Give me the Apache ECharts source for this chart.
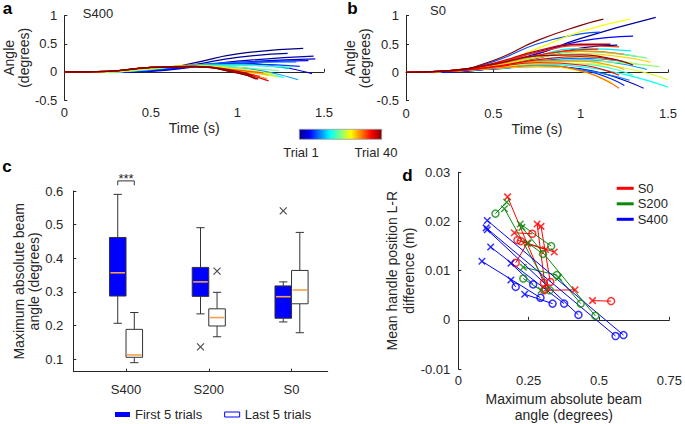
<!DOCTYPE html>
<html><head><meta charset="utf-8">
<script src="https://cdn.jsdelivr.net/npm/echarts@6/dist/echarts.min.js"></script>
<style>html,body{margin:0;padding:0;background:#fff}#c{width:685px;height:424px}</style>
</head><body><div id="c"></div><script>
// ---------- DATA ----------
// Panels a & b: beam angle traces. Row: [trial, endTime, v(0), v(0.25), v(0.5), v(0.75), v(1.0), v(end)]
const sampleTimes = [0, 0.25, 0.5, 0.75, 1.0];
const curvesS400 = [
  [1, 1.38, 0, -0.01, 0.02, 0.16, 0.32, 0.42],
  [2, 1.29, 0, -0.01, 0.02, 0.13, 0.26, 0.33],
  [3, 1.44, 0, -0.01, 0.01, 0.09, 0.19, 0.28],
  [4, 1.45, 0, 0.00, 0.02, 0.10, 0.17, 0.23],
  [5, 1.43, 0, 0.00, 0.03, 0.11, 0.16, -0.03],
  [6, 1.41, 0, -0.01, 0.02, 0.10, 0.16, 0.20],
  [8, 1.36, 0, 0.00, 0.03, 0.11, 0.14, 0.10],
  [10, 1.34, 0, 0.00, 0.04, 0.12, 0.17, 0.18],
  [12, 1.35, 0, 0.00, 0.04, 0.11, 0.08, -0.14],
  [14, 1.30, 0, 0.00, 0.05, 0.12, 0.12, 0.06],
  [16, 1.27, 0, 0.00, 0.05, 0.11, 0.05, -0.10],
  [18, 1.31, 0, 0.00, 0.05, 0.12, 0.12, 0.08],
  [20, 1.24, 0, 0.00, 0.06, 0.11, 0.08, 0.02],
  [22, 1.22, 0, 0.00, 0.06, 0.11, 0.04, -0.07],
  [24, 1.23, 0, 0.00, 0.06, 0.10, 0.03, -0.09],
  [26, 1.20, 0, 0.01, 0.07, 0.11, 0.05, -0.03],
  [28, 1.18, 0, 0.01, 0.07, 0.10, 0.02, -0.06],
  [30, 1.17, 0, 0.01, 0.07, 0.10, 0.00, -0.12],
  [32, 1.15, 0, 0.01, 0.08, 0.10, 0.03, -0.02],
  [34, 1.13, 0, 0.01, 0.08, 0.10, 0.00, -0.08],
  [36, 1.18, 0, 0.01, 0.08, 0.10, -0.01, -0.16],
  [38, 1.11, 0, 0.01, 0.08, 0.09, -0.02, -0.13],
  [39, 1.09, 0, 0.01, 0.08, 0.10, 0.01, -0.07],
  [40, 1.12, 0, 0.01, 0.08, 0.09, -0.02, -0.13]
];
const curvesS0 = [
  [1, 1.21, 0, 0.02, 0.10, 0.25, 0.43, 0.48],
  [2, 1.43, 0, 0.02, 0.11, 0.32, 0.60, 0.97],
  [3, 1.36, 0, 0.01, 0.06, 0.11, 0.06, -0.28],
  [4, 1.17, 0, 0.02, 0.14, 0.36, 0.49, 0.49],
  [6, 1.30, 0, 0.02, 0.12, 0.33, 0.55, 0.64],
  [7, 1.25, 0, 0.01, 0.06, 0.11, 0.05, -0.23],
  [9, 1.11, 0, 0.03, 0.19, 0.50, 0.68, 0.71],
  [10, 1.24, 0, 0.02, 0.09, 0.20, 0.25, 0.20],
  [11, 1.28, 0, 0.02, 0.06, 0.10, 0.05, -0.14],
  [12, 1.38, 0, 0.02, 0.08, 0.19, 0.22, 0.05],
  [13, 1.32, 0, 0.02, 0.10, 0.26, 0.37, 0.28],
  [15, 1.29, 0, 0.02, 0.12, 0.30, 0.42, 0.38],
  [16, 1.50, 0, 0.02, 0.07, 0.14, 0.10, -0.26],
  [18, 1.30, 0, 0.02, 0.08, 0.16, 0.15, -0.05],
  [20, 1.38, 0, 0.02, 0.11, 0.28, 0.37, 0.25],
  [21, 1.45, 0, 0.02, 0.09, 0.18, 0.20, 0.10],
  [22, 1.33, 0, 0.02, 0.10, 0.22, 0.27, 0.14],
  [24, 1.50, 0, 0.02, 0.08, 0.16, 0.16, -0.13],
  [25, 1.28, 0, 0.02, 0.14, 0.42, 0.72, 0.94],
  [26, 1.18, 0, 0.02, 0.07, 0.10, 0.02, -0.18],
  [27, 1.40, 0, 0.02, 0.11, 0.26, 0.33, 0.18],
  [29, 1.25, 0, 0.02, 0.10, 0.20, 0.20, 0.05],
  [30, 1.25, 0, 0.02, 0.13, 0.30, 0.38, 0.32],
  [31, 1.22, 0, 0.02, 0.07, 0.12, 0.03, -0.28],
  [33, 1.22, 0, 0.03, 0.15, 0.35, 0.47, 0.45],
  [34, 1.10, 0, 0.03, 0.14, 0.30, 0.40, 0.41],
  [35, 1.22, 0, 0.02, 0.09, 0.17, 0.13, -0.05],
  [36, 1.20, 0, 0.02, 0.10, 0.22, 0.28, 0.22],
  [37, 1.17, 0, 0.03, 0.16, 0.38, 0.50, 0.50],
  [39, 1.30, 0, 0.03, 0.14, 0.29, 0.31, 0.13],
  [40, 1.13, 0, 0.03, 0.21, 0.56, 0.83, 0.94]
];

// Panel c: box plots [min, Q1, median, Q3, max]
const boxCategories = ['S400', 'S200', 'S0'];
const firstTrials = [
  [0.207, 0.288, 0.357, 0.462, 0.590],
  [0.235, 0.287, 0.330, 0.373, 0.491],
  [0.211, 0.222, 0.286, 0.318, 0.330]
];
const lastTrials = [
  [0.090, 0.106, 0.113, 0.189, 0.239],
  [0.167, 0.199, 0.224, 0.250, 0.299],
  [0.179, 0.265, 0.306, 0.364, 0.477]
];
const firstOutliers = [[2, 0.137], [3, 0.541]]; // [category number, value]
const lastOutliers = [[2, 0.362]];
const beamTicks = [0.1, 0.2, 0.3, 0.4, 0.5, 0.6];

// Panel d: per subject [first-5 angle, first-5 L-R diff, last-5 angle, last-5 L-R diff]
const pairsS0 = [
  [0.175, 0.0250, 0.304, 0.0075],
  [0.199, 0.0177, 0.263, 0.0175],
  [0.280, 0.0195, 0.310, 0.0063],
  [0.294, 0.0190, 0.327, 0.0077],
  [0.341, 0.0138, 0.222, 0.0160],
  [0.310, 0.0143, 0.210, 0.0162],
  [0.245, 0.0156, 0.204, 0.0116],
  [0.415, 0.0061, 0.305, 0.0060],
  [0.477, 0.0039, 0.543, 0.0038]
];
const pairsS200 = [
  [0.172, 0.0239, 0.132, 0.0216],
  [0.164, 0.0226, 0.325, 0.0060],
  [0.220, 0.0195, 0.330, 0.0150],
  [0.226, 0.0188, 0.487, 0.0008],
  [0.248, 0.0156, 0.301, 0.0134],
  [0.231, 0.0107, 0.350, 0.0091],
  [0.356, 0.0086, 0.435, 0.0033],
  [0.294, 0.0060, 0.231, 0.0084]
];
const pairsS400 = [
  [0.103, 0.0202, 0.587, -0.0031],
  [0.099, 0.0187, 0.559, -0.0033],
  [0.103, 0.0183, 0.427, 0.0010],
  [0.115, 0.0148, 0.376, 0.0033],
  [0.084, 0.0119, 0.292, 0.0045],
  [0.187, 0.0115, 0.266, 0.0072],
  [0.187, 0.0081, 0.204, 0.0067],
  [0.236, 0.0052, 0.335, 0.0033]
];
const groupNames = ['S0', 'S200', 'S400'];

// ---------- STYLE ----------
const FONT = '"Liberation Sans", Arial, sans-serif';
const TXT = '#262626';
const groupColors = {S0: '#ff0000', S200: '#0d870d', S400: '#0000ff'};
function jet(t) {
  const c = v => Math.round(255 * Math.min(1, Math.max(0, v)));
  return 'rgb(' + c(1.5 - Math.abs(4 * t - 3)) + ',' + c(1.5 - Math.abs(4 * t - 2)) + ',' + c(1.5 - Math.abs(4 * t - 1)) + ')';
}
const lbl = {color: TXT, fontSize: 13, fontFamily: FONT};
const nameLbl = {color: TXT, fontSize: 14, fontFamily: FONT};
function axisBase(extra) {
  return Object.assign({
    type: 'value',
    axisLine: {show: true, lineStyle: {color: TXT, width: 1}},
    axisTick: {show: true, inside: true, length: 3, lineStyle: {color: TXT}},
    splitLine: {show: false},
    axisLabel: Object.assign({}, lbl),
    nameTextStyle: Object.assign({}, nameLbl),
    nameLocation: 'middle'
  }, extra);
}

const X_MARK = 'path://M0,0L10,10M10,0L0,10';
const series = [];

function addCurves(curves, gi) {
  curves.slice().sort((a, b) => a[0] - b[0]).forEach(c => {
    const pts = sampleTimes.map((t, i) => [t, c[2 + i]]);
    pts.push([c[1], c[7]]);
    series.push({
      type: 'line', xAxisIndex: gi, yAxisIndex: gi, data: pts,
      smooth: 0.5, symbol: 'none', silent: true,
      lineStyle: {color: jet((c[0] - 1) / 39), width: 1.2}
    });
  });
}
addCurves(curvesS400, 0);
addCurves(curvesS0, 1);

function boxRender(fill) {
  return function (params, api) {
    const x = api.value(0);
    const mn = api.value(1), q1 = api.value(2), md = api.value(3), q3 = api.value(4), mx = api.value(5);
    const tl = api.coord([x - 0.1, q3]), br = api.coord([x + 0.1, q1]);
    const pm = api.coord([x, md]), pmin = api.coord([x, mn]), pmax = api.coord([x, mx]);
    const cx = pm[0], hw = (br[0] - tl[0]) / 4;
    const ls = {stroke: '#333', lineWidth: 1};
    return {type: 'group', children: [
      {type: 'line', shape: {x1: cx, y1: pmax[1], x2: cx, y2: tl[1]}, style: ls},
      {type: 'line', shape: {x1: cx, y1: br[1], x2: cx, y2: pmin[1]}, style: ls},
      {type: 'line', shape: {x1: cx - hw, y1: pmax[1], x2: cx + hw, y2: pmax[1]}, style: ls},
      {type: 'line', shape: {x1: cx - hw, y1: pmin[1], x2: cx + hw, y2: pmin[1]}, style: ls},
      {type: 'rect', shape: {x: tl[0], y: tl[1], width: br[0] - tl[0], height: br[1] - tl[1]}, style: {fill: fill, stroke: '#333', lineWidth: 1}},
      {type: 'line', shape: {x1: tl[0] + 1, y1: pm[1], x2: br[0] - 1, y2: pm[1]}, style: {stroke: '#f5a04a', lineWidth: 1.6}}
    ]};
  };
}
series.push({
  type: 'custom', name: 'First 5 trials', xAxisIndex: 2, yAxisIndex: 2,
  data: firstTrials.map((b, i) => [i + 1 - 0.1].concat(b)),
  encode: {x: 0, y: [1, 2, 3, 4, 5]}, renderItem: boxRender('#0000ff'),
  itemStyle: {color: '#0000ff'}
});
series.push({
  type: 'custom', name: 'Last 5 trials', xAxisIndex: 2, yAxisIndex: 2,
  data: lastTrials.map((b, i) => [i + 1 + 0.1].concat(b)),
  encode: {x: 0, y: [1, 2, 3, 4, 5]}, renderItem: boxRender('#ffffff'),
  itemStyle: {color: '#ffffff'}
});
series.push({
  type: 'scatter', xAxisIndex: 2, yAxisIndex: 2, symbol: X_MARK, symbolSize: 7,
  data: firstOutliers.map(o => [o[0] - 0.1, o[1]]).concat(lastOutliers.map(o => [o[0] + 0.1, o[1]])),
  itemStyle: {color: 'none', borderColor: '#222', borderWidth: 1.2}, silent: true
});
// significance bracket between S400 first/last
series.push({
  type: 'custom', xAxisIndex: 2, yAxisIndex: 2, silent: true, clip: false,
  data: [[0.9, 1.1, 0.630, 0.617]],
  encode: {x: [0, 1], y: [2, 3]},
  renderItem: function (params, api) {
    const a = api.coord([api.value(0), api.value(2)]), b = api.coord([api.value(1), api.value(2)]);
    const leg = api.coord([api.value(0), api.value(3)]);
    const ls = {stroke: '#333', lineWidth: 1, fill: 'none'};
    return {type: 'group', children: [
      {type: 'polyline', shape: {points: [[a[0], leg[1]], a, b, [b[0], leg[1]]]}, style: ls},
      {type: 'text', style: {text: '***', x: (a[0] + b[0]) / 2, y: a[1] - 2.5, align: 'center', verticalAlign: 'middle', fill: TXT, font: '13px ' + FONT}}
    ]};
  }
});

// Panel d
groupNames.forEach(g => {
  const pairs = {S0: pairsS0, S200: pairsS200, S400: pairsS400}[g];
  const col = groupColors[g];
  series.push({
    type: 'lines', name: g, coordinateSystem: 'cartesian2d', xAxisIndex: 3, yAxisIndex: 3,
    data: pairs.map(p => ({coords: [[p[0], p[1]], [p[2], p[3]]]})),
    lineStyle: {color: col, width: 1, opacity: 1}, itemStyle: {color: col}, silent: true
  });
});
groupNames.forEach(g => {
  const pairs = {S0: pairsS0, S200: pairsS200, S400: pairsS400}[g];
  const col = groupColors[g];
  series.push({
    type: 'scatter', xAxisIndex: 3, yAxisIndex: 3, symbol: X_MARK, symbolSize: 6.5,
    data: pairs.map(p => [p[0], p[1]]), silent: true,
    itemStyle: {color: 'none', borderColor: col, borderWidth: 1.5}
  });
  series.push({
    type: 'scatter', xAxisIndex: 3, yAxisIndex: 3, symbol: 'circle', symbolSize: 7,
    data: pairs.map(p => [p[2], p[3]]), silent: true,
    itemStyle: {color: 'rgba(0,0,0,0)', borderColor: col, borderWidth: 1.5}
  });
});

const jetStops = [];
for (let i = 0; i <= 16; i++) jetStops.push({offset: i / 16, color: jet(i / 16)});

function txt(text, x, y, size, bold, va) {
  return {type: 'text', x: x, y: y, silent: true, style: {text: text, align: 'center', verticalAlign: va || 'middle', fill: bold ? '#000' : TXT, font: (bold ? 'bold ' : '') + size + 'px ' + FONT}};
}

const option = {
  animation: false,
  backgroundColor: '#fff',
  grid: [
    {left: 62, top: 15.7, width: 262, height: 84.3},
    {left: 406, top: 15.7, width: 262, height: 85},
    {left: 73.3, top: 191, width: 254.4, height: 180.7},
    {left: 458.3, top: 172.3, width: 214, height: 197.7}
  ],
  xAxis: [
    axisBase({gridIndex: 0, min: 0, max: 1.5, interval: 0.5, name: 'Time (s)', nameGap: 21, axisLabel: Object.assign({}, lbl, {margin: 6})}),
    axisBase({gridIndex: 1, min: 0, max: 1.5, interval: 0.5, name: 'Time (s)', nameGap: 21, axisLabel: Object.assign({}, lbl, {margin: 6})}),
    axisBase({gridIndex: 2, min: 0.363, max: 3.437,
      axisTick: {show: true, inside: true, length: 3, lineStyle: {color: TXT}, customValues: [1, 2, 3]},
      axisLabel: Object.assign({}, lbl, {margin: 11, customValues: [1, 2, 3], formatter: v => boxCategories[Math.round(v) - 1]})}),
    axisBase({gridIndex: 3, min: 0, max: 0.75, interval: 0.25,
      name: 'Maximum absolute beam\nangle (degrees)', nameGap: 22,
      nameTextStyle: Object.assign({}, nameLbl, {lineHeight: 16}), axisLabel: Object.assign({}, lbl, {margin: 5})})
  ],
  yAxis: [
    axisBase({gridIndex: 0, min: -0.5, max: 1, interval: 0.5, name: 'Angle\n(degrees)', nameGap: 29,
      nameTextStyle: Object.assign({}, nameLbl, {lineHeight: 15}), axisLabel: Object.assign({}, lbl, {margin: 7})}),
    axisBase({gridIndex: 1, min: -0.5, max: 1, interval: 0.5, name: 'Angle\n(degrees)', nameGap: 32,
      nameTextStyle: Object.assign({}, nameLbl, {lineHeight: 15}), axisLabel: Object.assign({}, lbl, {margin: 7})}),
    axisBase({gridIndex: 2, min: 0.0632, max: 0.6, name: 'Maximum absolute beam\nangle (degrees)', nameGap: 32,
      nameTextStyle: Object.assign({}, nameLbl, {lineHeight: 15}),
      axisTick: {show: true, inside: true, length: 3, lineStyle: {color: TXT}, customValues: beamTicks},
      axisLabel: Object.assign({}, lbl, {margin: 10, customValues: beamTicks, formatter: v => v.toFixed(1)})}),
    axisBase({gridIndex: 3, min: -0.01, max: 0.03, interval: 0.01, name: 'Mean handle position L-R\ndifference (m)', nameGap: 39,
      nameTextStyle: Object.assign({}, nameLbl, {lineHeight: 16.5}),
      axisLabel: Object.assign({}, lbl, {margin: 8, formatter: v => (Math.abs(v) < 1e-9 ? '0' : String(Math.round(v * 100) / 100))})})
  ],
  legend: [
    {
      left: 110, top: 403, itemWidth: 15, itemHeight: 5, itemGap: 22, icon: 'rect',
      textStyle: Object.assign({}, lbl), selectedMode: false,
      data: [
        {name: 'First 5 trials', itemStyle: {color: '#0000ff', borderWidth: 0}},
        {name: 'Last 5 trials', itemStyle: {color: '#ffffff', borderColor: '#0000ff', borderWidth: 1}}
      ]
    },
    {
      left: 611.7, top: 176.3, orient: 'vertical', itemWidth: 15, itemHeight: 1, itemGap: 1.5, icon: 'rect',
      textStyle: Object.assign({}, lbl, {lineHeight: 14}), selectedMode: false,
      data: groupNames.map(g => ({name: g, itemStyle: {color: groupColors[g]}}))
    }
  ],
  graphic: [
    txt('a', 7.5, 0, 17, true, 'top'),
    txt('b', 352.5, 0, 17, true, 'top'),
    txt('c', 7, 166, 17, true),
    txt('d', 407.5, 175, 17, true),
    txt('S400', 98, 13, 13),
    txt('S0', 438, 10, 13),
    {type: 'rect', silent: true, shape: {x: 299.3, y: 129.3, width: 82.4, height: 10},
      style: {fill: new echarts.graphic.LinearGradient(0, 0, 1, 0, jetStops), stroke: '#999', lineWidth: 0.8}},
    txt('Trial 1', 301, 152, 13),
    txt('Trial 40', 376, 152, 13)
  ],
  series: series
};
const chart = echarts.init(document.getElementById('c'), null, {renderer: 'svg'});
chart.setOption(option);
</script></body></html>
